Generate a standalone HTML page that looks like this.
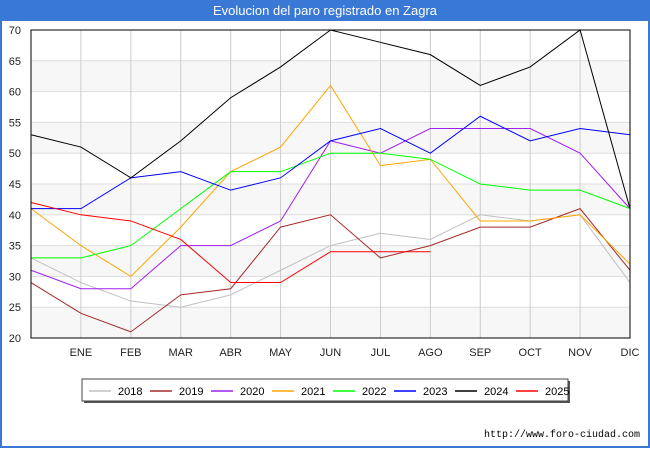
<!DOCTYPE html>
<html><head><meta charset="utf-8"><style>
body{margin:0;width:650px;height:450px;overflow:hidden;background:#fff;font-family:"Liberation Sans",sans-serif}
#wrap{position:absolute;left:0;top:0;width:646px;height:446px;border:2px solid #3a78d6;border-top:none}
#title{position:absolute;left:0;top:0;width:650px;height:21px;background:#3a78d6;color:#fff;font-size:13px;line-height:22px;text-align:center}
</style></head><body>
<div id="wrap"></div>
<div id="title">Evolucion del paro registrado en Zagra</div>
<svg id="chart" width="650" height="450" style="position:absolute;left:0;top:0"></svg>
<script>
const months=["","ENE","FEB","MAR","ABR","MAY","JUN","JUL","AGO","SEP","OCT","NOV","DIC"];
const yTicks=[20,25,30,35,40,45,50,55,60,65,70];
const years=["2018","2019","2020","2021","2022","2023","2024","2025"];
const colors=["#c0c0c0","#a52a2a","#a020f0","#ffa500","#00ff00","#0000ff","#000000","#ff0000"];
const s2018=[33,29,26,25,27,31,35,37,36,40,39,40,29];
const s2019=[29,24,21,27,28,38,40,33,35,38,38,41,31];
const s2020=[31,28,28,35,35,39,52,50,54,54,54,50,41];
const s2021=[41,35,30,38,47,51,61,48,49,39,39,40,32];
const s2022=[33,33,35,41,47,47,50,50,49,45,44,44,41];
const s2023=[41,41,46,47,44,46,52,54,50,56,52,54,53];
const s2024=[53,51,46,52,59,64,70,68,66,61,64,70,41];
const s2025=[42,40,39,36,29,29,34,34,34];
const series=[s2018,s2019,s2020,s2021,s2022,s2023,s2024,s2025];
const X0=31,X1=630,Y0=338,Y1=30;
const x=i=>X0+(X1-X0)*i/12;
const y=v=>Y0-(v-20)*(Y0-Y1)/50;
const svg=document.getElementById('chart');
const NS="http://www.w3.org/2000/svg";
function mk(t,a){const e=document.createElementNS(NS,t);for(const k in a)e.setAttribute(k,a[k]);svg.appendChild(e);return e;}
for(let i=0;i<yTicks.length-1;i++){
  if(i%2===0){const r=mk('rect',{x:X0,y:y(yTicks[i+1]),width:X1-X0,height:y(yTicks[i])-y(yTicks[i+1]),fill:'#f7f7f7'});
  
  }
}
yTicks.forEach(v=>{
  const l=mk('line',{x1:X0,x2:X1,y1:y(v),y2:y(v),stroke:'#dddddd'});
  
  
  const t=mk('text',{x:21,y:y(v)+4,'font-size':11,'text-anchor':'end',fill:'#222'});
  t.textContent=v;
  
  
});
months.forEach((m,i)=>{
  if(i>0){const l=mk('line',{x1:x(i),x2:x(i),y1:Y1,y2:Y0,stroke:'#cccccc'});
  
  }
  const t=mk('text',{x:x(i),y:356,'font-size':11,'text-anchor':'middle',fill:'#222'});
  t.textContent=m;
  
  
});
series.forEach((s,k)=>{
  const p=mk('polyline',{points:s.map((v,i)=>x(i)+','+y(v)).join(' '),fill:'none',stroke:colors[k],'stroke-width':1});
  
  
});
const fr=mk('rect',{x:X0,y:Y1,width:X1-X0,height:Y0-Y1,fill:'none',stroke:'#000','stroke-width':1});


const sh=mk('rect',{x:84,y:381,width:486,height:22,fill:'#555'});


const lb=mk('rect',{x:82,y:379,width:486,height:22,fill:'#fff',stroke:'#444'});


years.forEach((yr,k)=>{
  const lx=89+k*61;
  const l=mk('line',{x1:lx,x2:lx+22,y1:391,y2:391,stroke:colors[k],'stroke-width':1.5});
  
  
  const t=mk('text',{x:lx+29,y:395,'font-size':11,fill:'#000'});
  t.textContent=yr;
  
  
});
const u=mk('text',{x:640,y:437,'font-size':10,'text-anchor':'end',fill:'#000','font-family':'Liberation Mono, monospace'});
u.textContent='http://www.foro-ciudad.com';


</script>
</body></html>
